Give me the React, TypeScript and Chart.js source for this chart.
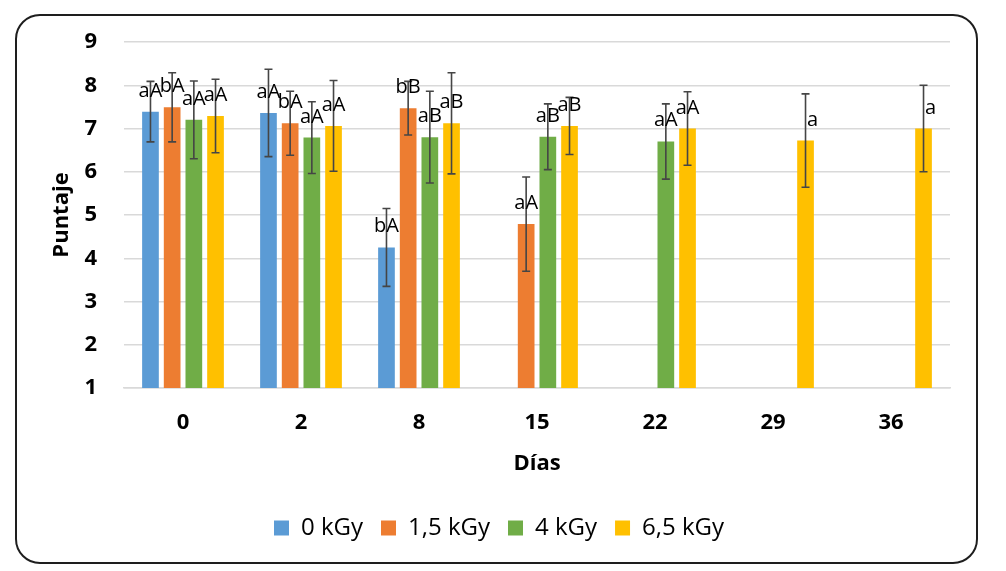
import React, { useEffect, useRef } from "react";
import { Chart, registerables } from "chart.js";

Chart.register(...registerables);

const categories = ["0", "2", "8", "15", "22", "29", "36"];
const seriesNames = ["0 kGy", "1,5 kGy", "4 kGy", "6,5 kGy"];
const seriesColors = ["#5B9BD5", "#ED7D31", "#70AD47", "#FFC000"];

const values0 = [7.39, 7.36, 4.25, null, null, null, null];
const values1 = [7.49, 7.12, 7.47, 4.79, null, null, null];
const values2 = [7.2, 6.79, 6.8, 6.81, 6.7, null, null];
const values3 = [7.29, 7.06, 7.12, 7.06, 7.0, 6.72, 7.0];

const errors0 = [0.7, 1.01, 0.9, null, null, null, null];
const errors1 = [0.8, 0.74, 0.62, 1.09, null, null, null];
const errors2 = [0.9, 0.83, 1.06, 0.76, 0.87, null, null];
const errors3 = [0.85, 1.05, 1.17, 0.66, 0.85, 1.08, 1.0];

const labels0 = ["aA", "aA", "bA", "", "", "", ""];
const labels1 = ["bA", "bA", "bB", "aA", "", "", ""];
const labels2 = ["aA", "aA", "aB", "aB", "aA", "", ""];
const labels3 = ["aA", "aA", "aB", "aB", "aA", "a", "a"];

const yTicks = [1, 2, 3, 4, 5, 6, 7, 8, 9];

const allValues = [values0, values1, values2, values3];
const allErrors = [errors0, errors1, errors2, errors3];
const allLabels = [labels0, labels1, labels2, labels3];

const FONT = "'Open Sans', sans-serif";

const framePlugin = {
  id: "frame",
  beforeDraw(chart: any) {
    const ctx = chart.ctx;
    ctx.save();
    const x = 16, y = 15, w = 961, h = 548, r = 24;
    ctx.beginPath();
    ctx.moveTo(x + r, y);
    ctx.lineTo(x + w - r, y);
    ctx.arcTo(x + w, y, x + w, y + r, r);
    ctx.lineTo(x + w, y + h - r);
    ctx.arcTo(x + w, y + h, x + w - r, y + h, r);
    ctx.lineTo(x + r, y + h);
    ctx.arcTo(x, y + h, x, y + h - r, r);
    ctx.lineTo(x, y + r);
    ctx.arcTo(x, y, x + r, y, r);
    ctx.closePath();
    ctx.lineWidth = 2;
    ctx.strokeStyle = "#1e1e1e";
    ctx.stroke();
    ctx.restore();
  },
};

const errorLabelPlugin = {
  id: "errorLabels",
  afterDatasetsDraw(chart: any) {
    const ctx = chart.ctx;
    const yScale = chart.scales.y;
    ctx.save();
    // error bars
    chart.data.datasets.forEach((ds: any, di: number) => {
      const meta = chart.getDatasetMeta(di);
      meta.data.forEach((el: any, i: number) => {
        const v = ds.data[i];
        const e = allErrors[di][i];
        if (v == null || e == null) return;
        const top = yScale.getPixelForValue(v + e);
        const bot = yScale.getPixelForValue(v - e);
        ctx.strokeStyle = "#454545";
        ctx.lineWidth = 1.6;
        ctx.beginPath();
        ctx.moveTo(el.x, top);
        ctx.lineTo(el.x, bot);
        ctx.moveTo(el.x - 4, top);
        ctx.lineTo(el.x + 4, top);
        ctx.moveTo(el.x - 4, bot);
        ctx.lineTo(el.x + 4, bot);
        ctx.stroke();
      });
    });
    // letter labels
    ctx.fillStyle = "#000";
    ctx.font = `20px ${FONT}`;
    ctx.textAlign = "center";
    ctx.textBaseline = "alphabetic";
    chart.data.datasets.forEach((ds: any, di: number) => {
      const meta = chart.getDatasetMeta(di);
      meta.data.forEach((el: any, i: number) => {
        const v = ds.data[i];
        const t = allLabels[di][i];
        if (v == null || !t) return;
        const dx = t.length === 1 ? 7 : 0;
        ctx.fillText(t, el.x + dx, el.y - 15);
      });
    });
    ctx.restore();
  },
};

export default function App() {
  const ref = useRef<HTMLCanvasElement | null>(null);

  useEffect(() => {
    if (!ref.current) return;
    const chart = new Chart(ref.current, {
      type: "bar",
      data: {
        labels: categories,
        datasets: seriesNames.map((name, i) => ({
          label: name,
          data: allValues[i] as any,
          backgroundColor: seriesColors[i],
          borderWidth: 0,
          categoryPercentage: 0.735,
          barPercentage: 0.77,
        })),
      },
      options: {
        animation: false,
        responsive: false,
        maintainAspectRatio: false,
        layout: { padding: { left: 48, right: 56, top: 42, bottom: 21 } },
        plugins: {
          legend: {
            position: "bottom",
            labels: {
              boxWidth: 15,
              boxHeight: 15,
              padding: 18,
              color: "#000",
              font: { family: FONT, size: 24 },
            },
          },
          tooltip: { enabled: false },
        },
        scales: {
          x: {
            grid: { display: false, drawTicks: false },
            border: { display: true, color: "#d9d9d9", width: 1.5 },
            ticks: {
              padding: 22,
              color: "#000",
              font: { family: FONT, size: 22, weight: "bold" },
            },
            title: {
              display: true,
              text: "Días",
              color: "#000",
              font: { family: FONT, size: 22, weight: "bold" },
              padding: { top: 0, bottom: 21 },
            },
            afterFit(scale: any) {
              scale.height = 110;
            },
          },
          y: {
            min: 1,
            max: 9,
            afterBuildTicks(scale: any) {
              scale.ticks = yTicks.map((v) => ({ value: v }));
            },
            grid: { color: "#d9d9d9", lineWidth: 1.5, drawTicks: false },
            border: { display: false },
            ticks: {
              padding: 27,
              color: "#000",
              font: { family: FONT, size: 22, weight: "bold" },
            },
            title: {
              display: true,
              text: "Puntaje",
              color: "#000",
              font: { family: FONT, size: 22, weight: "bold" },
              padding: { top: 1, bottom: 0 },
            },
            afterFit(scale: any) {
              scale.width = 76;
            },
          },
        },
      },
      plugins: [framePlugin, errorLabelPlugin],
    });
    return () => chart.destroy();
  }, []);

  return (
    <div style={{ position: "absolute", left: 0, top: 0, width: 1006, height: 571, background: "#fff" }}>
      <canvas ref={ref} width={1006} height={571} style={{ width: 1006, height: 571, display: "block" }} />
    </div>
  );
}
